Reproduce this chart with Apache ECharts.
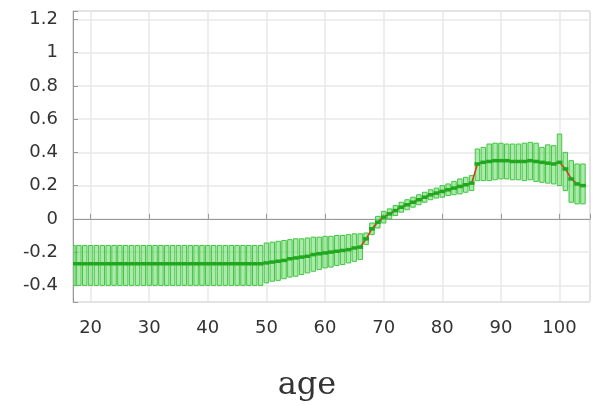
<!DOCTYPE html>
<html>
<head>
<meta charset="utf-8">
<script src="https://cdn.jsdelivr.net/npm/echarts@6/dist/echarts.min.js"></script>
<style>
html,body{margin:0;padding:0;background:#fff;}
#chart{width:593px;height:405px;}
</style>
</head>
<body>
<div id="chart"></div>
<script>
var ages = [17,18,19,20,21,22,23,24,25,26,27,28,29,30,31,32,33,34,35,36,37,38,39,40,41,42,43,44,45,46,47,48,49,
  50,51,52,53,54,55,56,57,58,59,60,61,62,63,64,65,66,
  67,68,69,70,71,72,73,74,75,76,77,78,79,80,81,82,83,84,85,
  86,87,88,89,90,91,92,93,94,95,96,97,98,99,100,101,102,103,104];

var means = [-0.27,-0.27,-0.27,-0.27,-0.27,-0.27,-0.27,-0.27,-0.27,-0.27,-0.27,-0.27,-0.27,-0.27,-0.27,-0.27,-0.27,-0.27,-0.27,-0.27,-0.27,-0.27,-0.27,-0.27,-0.27,-0.27,-0.27,-0.27,-0.27,-0.27,-0.27,-0.27,-0.27,
  -0.265,-0.26,-0.255,-0.25,-0.24,-0.235,-0.23,-0.225,-0.215,-0.21,-0.205,-0.2,-0.195,-0.19,-0.185,-0.175,-0.17,
  -0.12,-0.06,-0.02,0.01,0.03,0.05,0.07,0.085,0.1,0.115,0.13,0.145,0.155,0.165,0.175,0.185,0.195,0.205,0.215,
  0.33,0.34,0.345,0.35,0.35,0.35,0.345,0.345,0.345,0.35,0.345,0.34,0.335,0.33,0.34,0.30,0.24,0.21,0.20];

var lows = [-0.40,-0.40,-0.40,-0.40,-0.40,-0.40,-0.40,-0.40,-0.40,-0.40,-0.40,-0.40,-0.40,-0.40,-0.40,-0.40,-0.40,-0.40,-0.40,-0.40,-0.40,-0.40,-0.40,-0.40,-0.40,-0.40,-0.40,-0.40,-0.40,-0.40,-0.40,-0.40,-0.40,
  -0.385,-0.375,-0.37,-0.36,-0.35,-0.345,-0.335,-0.325,-0.315,-0.305,-0.295,-0.29,-0.28,-0.275,-0.265,-0.255,-0.245,
  -0.155,-0.095,-0.055,-0.025,0.0,0.02,0.04,0.055,0.07,0.085,0.10,0.115,0.125,0.13,0.14,0.145,0.15,0.16,0.17,
  0.23,0.23,0.23,0.235,0.24,0.24,0.235,0.235,0.23,0.235,0.225,0.22,0.215,0.21,0.20,0.17,0.10,0.09,0.09];

var highs = [-0.16,-0.16,-0.16,-0.16,-0.16,-0.16,-0.16,-0.16,-0.16,-0.16,-0.16,-0.16,-0.16,-0.16,-0.16,-0.16,-0.16,-0.16,-0.16,-0.16,-0.16,-0.16,-0.16,-0.16,-0.16,-0.16,-0.16,-0.16,-0.16,-0.16,-0.16,-0.16,-0.16,
  -0.145,-0.14,-0.135,-0.13,-0.125,-0.12,-0.12,-0.115,-0.11,-0.11,-0.105,-0.105,-0.10,-0.10,-0.095,-0.09,-0.09,
  -0.085,-0.025,0.015,0.045,0.06,0.08,0.10,0.115,0.13,0.145,0.16,0.175,0.185,0.20,0.21,0.225,0.24,0.25,0.26,
  0.42,0.43,0.45,0.455,0.455,0.45,0.45,0.45,0.455,0.46,0.455,0.43,0.445,0.44,0.51,0.40,0.35,0.33,0.33];

var yTickLabels = ['-0.4','-0.2','0','0.2','0.4','0.6','0.8','1','1.2'];
var xTickLabels = ['20','30','40','50','60','70','80','90','100'];

var chart = echarts.init(document.getElementById('chart'), null, {renderer: 'canvas'});

var boxData = ages.map(function (a, i) { return [a, lows[i], highs[i], means[i]]; });
var lineData = ages.map(function (a, i) { return [a, means[i]]; });

var font = 'DejaVu Sans';

chart.setOption({
  animation: false,
  grid: {left: 73, top: 11, bottom: 103, right: -5, show: true, borderColor: '#aaa', borderWidth: 1},
  xAxis: {
    type: 'value', min: 17, max: 105.2, splitNumber: 9,
    axisLine: {show: true, lineStyle: {color: '#999', width: 1}},
    axisTick: {show: true, inside: true, length: 5, lineStyle: {color: '#999'}},
    splitLine: {show: true, lineStyle: {color: '#e8e8e8', width: 1.5}},
    axisLabel: {
      margin: 17, color: '#333', fontSize: 18, fontFamily: font,
      formatter: function (v) {
        var s = String(Math.round(v));
        return (Math.abs(v - Math.round(v)) < 1e-6 && xTickLabels.indexOf(s) >= 0) ? s : '';
      }
    }
  },
  yAxis: {
    type: 'value', min: -0.5, max: 1.25, splitNumber: 9,
    axisLine: {show: true, lineStyle: {color: '#999', width: 1}},
    axisTick: {show: true, inside: true, length: 5, lineStyle: {color: '#999'}},
    splitLine: {show: true, lineStyle: {color: '#e8e8e8', width: 1.5}},
    axisLabel: {
      margin: 15, color: '#333', fontSize: 18, fontFamily: font,
      formatter: function (v) {
        var s = String(+v.toFixed(2));
        return yTickLabels.indexOf(s) >= 0 ? s : '';
      }
    }
  },
  series: [
    {
      type: 'custom', clip: true, z: 2,
      data: boxData,
      renderItem: function (params, api) {
        var x = api.value(0), lo = api.value(1), hi = api.value(2);
        var p1 = api.coord([x - 0.38, hi]);
        var p2 = api.coord([x + 0.38, lo]);
        return {
          type: 'rect',
          shape: {x: p1[0], y: p1[1], width: p2[0] - p1[0], height: p2[1] - p1[1]},
          style: {fill: 'rgba(105,215,105,0.55)', stroke: '#40c640', lineWidth: 1}
        };
      }
    },
    {
      type: 'line', data: lineData, showSymbol: false, clip: true, z: 3,
      lineStyle: {color: '#d83a1c', width: 1.5}
    },
    {
      type: 'custom', clip: true, z: 4,
      data: boxData,
      renderItem: function (params, api) {
        var x = api.value(0), m = api.value(3);
        var p1 = api.coord([x - 0.5, m]);
        var p2 = api.coord([x + 0.5, m]);
        return {
          type: 'line',
          shape: {x1: p1[0], y1: p1[1], x2: p2[0], y2: p2[1]},
          style: {stroke: '#1ea81e', lineWidth: 3.5}
        };
      }
    }
  ],
  graphic: [{
    type: 'text', x: 307, y: 386, z: 10,
    style: {text: 'age', fontSize: 32, fontFamily: 'DejaVu Serif', fill: '#333', align: 'center', verticalAlign: 'middle'}
  }]
});
</script>
</body>
</html>
